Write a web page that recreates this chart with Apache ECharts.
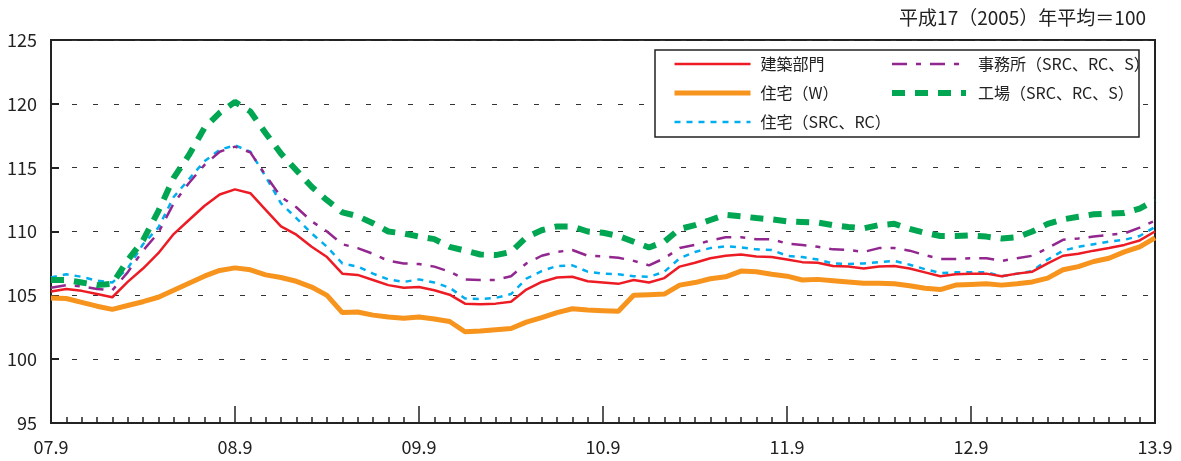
<!DOCTYPE html>
<html>
<head>
<meta charset="utf-8">
<script src="https://cdn.jsdelivr.net/npm/echarts@6/dist/echarts.min.js"></script>
<style>
html,body{margin:0;padding:0;background:#fff;}
#chart{width:1181px;height:461px;}
</style>
</head>
<body>
<div id="chart"></div>
<script>
var months = [
'07.9','07.10','07.11','07.12','08.1','08.2','08.3','08.4','08.5','08.6','08.7','08.8',
'08.9','08.10','08.11','08.12','09.1','09.2','09.3','09.4','09.5','09.6','09.7','09.8',
'09.9','09.10','09.11','09.12','10.1','10.2','10.3','10.4','10.5','10.6','10.7','10.8',
'10.9','10.10','10.11','10.12','11.1','11.2','11.3','11.4','11.5','11.6','11.7','11.8',
'11.9','11.10','11.11','11.12','12.1','12.2','12.3','12.4','12.5','12.6','12.7','12.8',
'12.9','12.10','12.11','12.12','13.1','13.2','13.3','13.4','13.5','13.6','13.7','13.8',
'13.9'];
var yTicks = [95, 100, 105, 110, 115, 120, 125];

var seriesNames = ['建築部門','住宅（W）','住宅（SRC、RC）','事務所（SRC、RC、S）','工場（SRC、RC、S）'];

var kenchiku = [105.3,105.5,105.35,105.1,104.85,106.05,107.1,108.3,109.8,110.9,112.0,112.9,
113.3,113.0,111.7,110.4,109.75,108.8,108.0,106.7,106.6,106.2,105.8,105.6,
105.65,105.4,105.05,104.35,104.3,104.35,104.5,105.45,106.05,106.4,106.45,106.1,
106.0,105.9,106.2,106.0,106.35,107.25,107.55,107.9,108.1,108.2,108.05,108.0,
107.8,107.6,107.55,107.3,107.25,107.1,107.25,107.3,107.1,106.8,106.5,106.65,
106.7,106.7,106.5,106.7,106.85,107.5,108.1,108.25,108.5,108.7,108.95,109.3,
110.0];
var jutakuW = [104.8,104.75,104.45,104.15,103.9,104.2,104.5,104.85,105.4,105.95,106.5,106.95,
107.15,107.0,106.6,106.4,106.1,105.65,105.0,103.65,103.7,103.45,103.3,103.2,
103.3,103.15,102.95,102.15,102.2,102.3,102.4,102.9,103.25,103.65,103.95,103.85,
103.8,103.75,105.0,105.05,105.1,105.8,106.0,106.3,106.45,106.9,106.85,106.65,
106.5,106.2,106.25,106.15,106.05,105.95,105.95,105.9,105.75,105.55,105.45,105.8,
105.85,105.9,105.8,105.9,106.05,106.35,107.0,107.25,107.65,107.9,108.4,108.8,
109.5];
var jutakuSRC = [106.4,106.65,106.45,106.15,106.0,107.1,109.0,110.3,112.7,114.1,115.5,116.4,
116.75,116.25,114.3,112.2,111.05,109.85,108.8,107.5,107.25,106.7,106.25,106.05,
106.25,106.0,105.6,104.75,104.7,104.8,105.1,106.3,106.9,107.3,107.35,106.85,
106.7,106.65,106.5,106.45,106.85,107.9,108.4,108.7,108.85,108.75,108.6,108.55,
108.1,108.0,107.8,107.5,107.45,107.5,107.6,107.7,107.4,107.05,106.75,106.8,
106.8,106.8,106.5,106.7,106.9,107.8,108.5,108.8,109.0,109.2,109.35,109.65,
110.35];
var jimusho = [105.6,105.8,105.7,105.5,105.4,106.8,108.5,109.9,112.2,113.8,115.2,116.25,
116.65,116.2,114.4,112.7,111.9,110.8,110.0,109.0,108.7,108.25,107.7,107.5,
107.45,107.25,106.85,106.25,106.2,106.2,106.5,107.5,108.1,108.4,108.55,108.1,
108.05,107.95,107.7,107.35,107.9,108.7,108.95,109.3,109.55,109.55,109.4,109.4,
109.05,108.95,108.8,108.6,108.55,108.4,108.7,108.7,108.5,108.15,107.85,107.85,
107.9,107.9,107.7,107.9,108.1,108.7,109.35,109.45,109.6,109.75,109.85,110.3,
110.85];
var kojo = [106.2,106.2,106.0,105.8,105.9,107.75,109.3,111.6,114.2,116.0,118.1,119.3,
120.15,119.4,117.7,116.1,114.8,113.5,112.45,111.5,111.2,110.65,110.0,109.85,
109.6,109.4,108.8,108.5,108.2,108.15,108.4,109.55,110.1,110.4,110.4,110.0,
109.9,109.65,109.2,108.75,109.2,110.2,110.5,110.9,111.3,111.2,111.05,110.95,
110.8,110.75,110.7,110.5,110.35,110.25,110.5,110.6,110.2,109.9,109.65,109.65,
109.7,109.6,109.45,109.55,110.0,110.6,110.95,111.15,111.35,111.4,111.45,111.8,
112.45];

var colors = ['#ed1c24', '#f7941d', '#00aeef', '#92278f', '#00a651'];
var widths = [2.5, 5, 2.5, 2.5, 6];
var dashes = ['solid', 'solid', [6, 6], [15, 9, 5, 9], [13, 10]];
var values = [kenchiku, jutakuW, jutakuSRC, jimusho, kojo];

var numFont = "'Noto Sans CJK JP',sans-serif";
var jpFont = "'Noto Sans CJK JP',sans-serif";

function legendItem(i) {
  return {name: seriesNames[i], itemStyle: {opacity: 0},
          lineStyle: {color: colors[i], width: widths[i], type: dashes[i]}};
}

var chart = echarts.init(document.getElementById('chart'), null, {renderer:'canvas'});
var option = {
  animation: false,
  backgroundColor: '#fff',
  title: {
    text: '平成17（2005）年平均＝100',
    right: 30, top: 3,
    textStyle: {fontFamily: jpFont, fontSize: 19, fontWeight: 'normal', color: '#222'}
  },
  grid: {left: 51, right: 26, top: 40, bottom: 38, show: true, borderColor: '#222', borderWidth: 2, backgroundColor: 'transparent'},
  graphic: [{
    type: 'rect', z: 3,
    shape: {x: 655, y: 50, width: 484, height: 87},
    style: {fill: '#fff', stroke: '#222', lineWidth: 1.5}
  }],
  legend: [{
    data: [legendItem(0), legendItem(1), legendItem(2)],
    orient: 'vertical', left: 672, top: 55, padding: 0,
    itemWidth: 76, itemHeight: 14, itemGap: 11, z: 5,
    itemStyle: {opacity: 0},
    textStyle: {fontFamily: jpFont, fontSize: 16, color: '#222', lineHeight: 18, padding: [0,0,0,5]}
  },{
    data: [legendItem(3), legendItem(4)],
    orient: 'vertical', left: 889, top: 55, padding: 0,
    itemWidth: 74, itemHeight: 14, itemGap: 11, z: 5,
    itemStyle: {opacity: 0},
    textStyle: {fontFamily: jpFont, fontSize: 16, color: '#222', lineHeight: 18, padding: [0,0,0,7]}
  }],
  xAxis: [{
    type: 'category', data: months, boundaryGap: false, position: 'bottom',
    axisLine: {show: true, lineStyle: {color: '#222', width: 2}},
    axisTick: {show: true, inside: true, interval: 0, length: 6, lineStyle: {color: '#222', width: 1.5}},
    axisLabel: {show: false},
    splitLine: {show: false}
  },{
    type: 'category', data: months, boundaryGap: false, position: 'bottom',
    axisLine: {show: false},
    axisTick: {show: true, inside: true, interval: 11, length: 17, lineStyle: {color: '#222', width: 1.5}},
    axisLabel: {show: true, interval: 11, margin: 15, fontFamily: numFont, fontSize: 18, color: '#222'},
    splitLine: {show: false}
  }],
  yAxis: {
    type: 'value', min: yTicks[0], max: yTicks[yTicks.length-1], interval: 5,
    axisLine: {show: true, lineStyle: {color: '#222', width: 2}},
    axisTick: {show: true, inside: true, length: 8, lineStyle: {color: '#222', width: 2}},
    axisLabel: {margin: 14, fontFamily: numFont, fontSize: 18, color: '#222'},
    splitLine: {show: true, lineStyle: {color: '#333', width: 1, type: [5, 16]}}
  },
  series: values.map(function (vals, i) {
    return {
      name: seriesNames[i], type: 'line', data: vals, symbol: 'none',
      z: i === 0 ? 3 : 2,
      lineStyle: {color: colors[i], width: widths[i], type: dashes[i]},
      itemStyle: {color: colors[i]}
    };
  })
};
chart.setOption(option);
</script>
</body>
</html>
